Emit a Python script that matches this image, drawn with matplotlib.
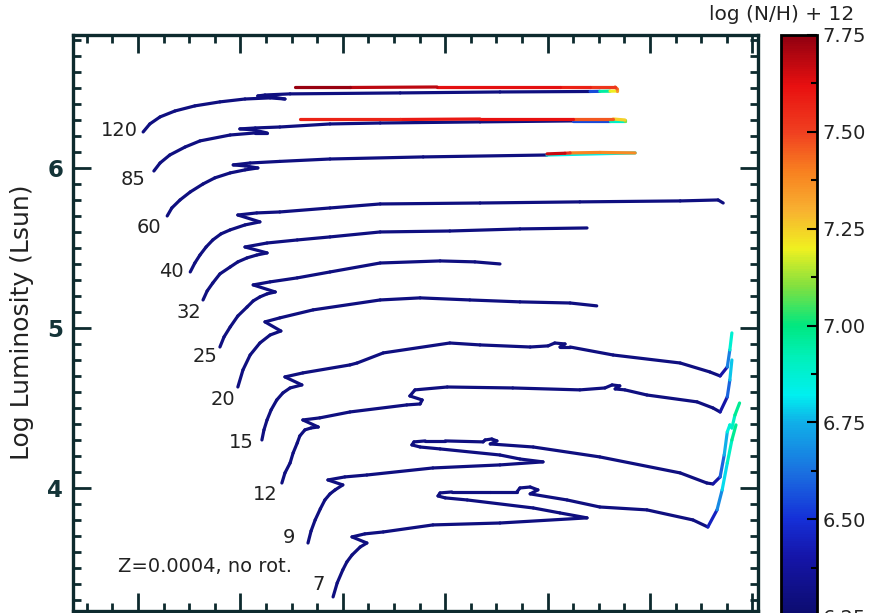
import numpy as np
import matplotlib
matplotlib.use('Agg')
import matplotlib.pyplot as plt
from matplotlib.collections import LineCollection
from matplotlib.colors import LinearSegmentedColormap, Normalize
from matplotlib.cm import ScalarMappable
from matplotlib.ticker import MultipleLocator

plt.rcParams['font.family'] = ['DejaVu Sans']

# ---------------- data: evolutionary tracks (log Teff, log L, log(N/H)+12) ----------------
masses = ['120', '85', '60', '40', '32', '25', '20', '15', '12', '9', '7']

T120 = [4.790, 4.777, 4.757, 4.728, 4.689, 4.640, 4.591, 4.542, 4.513, 4.538, 4.566, 4.552, 4.503,
        4.288, 4.093, 3.917, 3.898, 3.878, 3.864, 3.864, 3.868, 3.917, 3.976, 4.216, 4.386, 4.493]
L120 = [6.225, 6.275, 6.319, 6.356, 6.388, 6.413, 6.431, 6.438, 6.431, 6.444, 6.450, 6.456, 6.463,
        6.469, 6.475, 6.478, 6.479, 6.480, 6.481, 6.494, 6.506, 6.506, 6.506, 6.506, 6.503, 6.503]
N120 = [6.30, 6.30, 6.30, 6.30, 6.30, 6.30, 6.30, 6.30, 6.30, 6.30, 6.30, 6.30, 6.30,
        6.30, 6.30, 6.30, 6.80, 7.10, 7.30, 7.40, 7.50, 7.55, 7.60, 7.65, 7.72, 7.75]

T85 = [4.769, 4.757, 4.738, 4.708, 4.679, 4.620, 4.571, 4.548, 4.575, 4.601, 4.571, 4.523,
       4.425, 4.327, 4.132, 3.950, 3.878, 3.849, 3.849, 3.872, 3.950, 4.132, 4.288, 4.484]
L85 = [5.981, 6.031, 6.081, 6.131, 6.169, 6.206, 6.219, 6.219, 6.238, 6.244, 6.250, 6.256,
       6.275, 6.281, 6.288, 6.294, 6.294, 6.294, 6.300, 6.306, 6.306, 6.306, 6.303, 6.303]
N85 = [6.30, 6.30, 6.30, 6.30, 6.30, 6.30, 6.30, 6.30, 6.30, 6.30, 6.30, 6.30,
       6.30, 6.30, 6.30, 6.30, 6.80, 7.00, 7.20, 7.30, 7.62, 7.62, 7.57, 7.57]

T60 = [4.743, 4.734, 4.718, 4.698, 4.673, 4.650, 4.620, 4.591, 4.566, 4.591, 4.614, 4.581,
       4.523, 4.425, 4.243, 4.001, 3.829, 3.898, 3.956, 3.966, 4.001]
L60 = [5.700, 5.750, 5.800, 5.850, 5.900, 5.938, 5.969, 5.988, 6.000, 6.013, 6.019, 6.031,
       6.041, 6.056, 6.069, 6.081, 6.094, 6.097, 6.094, 6.092, 6.088]
N60 = [6.30, 6.30, 6.30, 6.30, 6.30, 6.30, 6.30, 6.30, 6.30, 6.30, 6.30, 6.30,
       6.30, 6.30, 6.30, 6.30, 7.38, 7.38, 7.40, 7.65, 7.68]

T40 = [4.698, 4.689, 4.679, 4.667, 4.654, 4.638, 4.620, 4.591, 4.562, 4.605, 4.568, 4.523, 4.425,
       4.327, 4.132, 3.937, 3.741, 3.667, 3.657]
L40 = [5.350, 5.406, 5.456, 5.506, 5.550, 5.588, 5.613, 5.644, 5.663, 5.706, 5.719, 5.725, 5.750,
       5.775, 5.781, 5.788, 5.794, 5.800, 5.781]
N40 = [6.30, 6.30, 6.30, 6.30, 6.30, 6.30, 6.30, 6.30, 6.30, 6.30, 6.30, 6.30, 6.30,
       6.30, 6.30, 6.30, 6.30, 6.30, 6.30]

T32 = [4.673, 4.665, 4.654, 4.640, 4.620, 4.605, 4.587, 4.568, 4.548, 4.591, 4.548, 4.489, 4.425,
       4.327, 4.191, 4.054, 3.923]
L32 = [5.175, 5.231, 5.281, 5.338, 5.381, 5.413, 5.438, 5.456, 5.469, 5.506, 5.531, 5.550, 5.569,
       5.600, 5.606, 5.619, 5.625]
N32 = [6.30, 6.30, 6.30, 6.30, 6.30, 6.30, 6.30, 6.30, 6.30, 6.30, 6.30, 6.30, 6.30,
       6.30, 6.30, 6.30, 6.30]

T25 = [4.640, 4.632, 4.620, 4.605, 4.587, 4.575, 4.562, 4.548, 4.532, 4.575, 4.542, 4.489, 4.425,
       4.327, 4.210, 4.142, 4.093]
L25 = [4.881, 4.944, 5.006, 5.075, 5.131, 5.169, 5.194, 5.213, 5.225, 5.269, 5.288, 5.313, 5.350,
       5.406, 5.419, 5.413, 5.400]
N25 = [6.30, 6.30, 6.30, 6.30, 6.30, 6.30, 6.30, 6.30, 6.30, 6.30, 6.30, 6.30, 6.30,
       6.30, 6.30, 6.30, 6.30]

T20 = [4.605, 4.595, 4.581, 4.562, 4.542, 4.521, 4.552, 4.523, 4.458, 4.327, 4.249, 4.152, 4.054, 3.956, 3.904]
L20 = [4.631, 4.738, 4.831, 4.906, 4.956, 4.981, 5.038, 5.063, 5.113, 5.175, 5.188, 5.175, 5.163, 5.156, 5.138]
N20 = [6.30, 6.30, 6.30, 6.30, 6.30, 6.30, 6.30, 6.30, 6.30, 6.30, 6.30, 6.30, 6.30, 6.30, 6.30]

T15 = [4.558, 4.554, 4.548, 4.540, 4.529, 4.517, 4.503, 4.480, 4.513, 4.478, 4.386, 4.372, 4.321,
       4.191, 4.132, 4.034, 3.999, 3.986, 3.966, 3.976, 3.956, 3.872, 3.741, 3.683, 3.663, 3.649,
       3.644, 3.640]
L15 = [4.300, 4.363, 4.425, 4.488, 4.550, 4.594, 4.625, 4.644, 4.694, 4.719, 4.769, 4.781, 4.844,
       4.906, 4.894, 4.881, 4.888, 4.906, 4.900, 4.881, 4.881, 4.831, 4.781, 4.725, 4.700, 4.756,
       4.863, 4.969]
N15 = [6.30, 6.30, 6.30, 6.30, 6.30, 6.30, 6.30, 6.30, 6.30, 6.30, 6.30, 6.30, 6.30,
       6.30, 6.30, 6.30, 6.30, 6.30, 6.30, 6.30, 6.30, 6.30, 6.30, 6.30, 6.30, 6.50,
       6.80, 6.95]

T12 = [4.519, 4.513, 4.503, 4.497, 4.489, 4.484, 4.474, 4.462, 4.448, 4.478, 4.445, 4.386, 4.275,
       4.249, 4.245, 4.269, 4.259, 4.196, 4.068, 3.937, 3.888, 3.874, 3.859, 3.868, 3.849, 3.806,
       3.708, 3.677, 3.663, 3.649, 3.644, 3.640]
L12 = [4.031, 4.094, 4.156, 4.219, 4.281, 4.325, 4.363, 4.375, 4.381, 4.425, 4.438, 4.475, 4.519,
       4.525, 4.550, 4.575, 4.613, 4.631, 4.625, 4.613, 4.625, 4.644, 4.638, 4.619, 4.613, 4.581,
       4.538, 4.500, 4.475, 4.569, 4.675, 4.800]
N12 = [6.30, 6.30, 6.30, 6.30, 6.30, 6.30, 6.30, 6.30, 6.30, 6.30, 6.30, 6.30, 6.30,
       6.30, 6.30, 6.30, 6.30, 6.30, 6.30, 6.30, 6.30, 6.30, 6.30, 6.30, 6.30, 6.30,
       6.30, 6.30, 6.30, 6.50, 6.70, 6.85]

T9 = [4.468, 4.462, 4.454, 4.444, 4.435, 4.425, 4.415, 4.400, 4.429, 4.396, 4.353, 4.224, 4.093,
      4.009, 4.054, 4.093, 4.210, 4.249, 4.265, 4.261, 4.239, 4.200, 4.126, 4.122, 4.109, 4.099,
      4.112, 4.028, 3.898, 3.741, 3.689, 3.677, 3.663, 3.655, 3.649, 3.644, 3.640, 3.634, 3.625]
L9 = [3.656, 3.731, 3.800, 3.869, 3.925, 3.963, 3.988, 4.019, 4.050, 4.069, 4.081, 4.125, 4.144,
      4.163, 4.181, 4.206, 4.244, 4.256, 4.269, 4.288, 4.294, 4.294, 4.288, 4.300, 4.306, 4.294,
      4.275, 4.256, 4.194, 4.094, 4.031, 4.025, 4.069, 4.206, 4.350, 4.394, 4.375, 4.456, 4.531]
N9 = [6.30, 6.30, 6.30, 6.30, 6.30, 6.30, 6.30, 6.30, 6.30, 6.30, 6.30, 6.30, 6.30,
      6.30, 6.30, 6.30, 6.30, 6.30, 6.30, 6.30, 6.30, 6.30, 6.30, 6.30, 6.30, 6.30,
      6.30, 6.30, 6.30, 6.30, 6.30, 6.30, 6.50, 6.70, 6.80, 6.90, 6.85, 6.95, 7.00]

T7 = [4.419, 4.411, 4.400, 4.392, 4.382, 4.366, 4.353, 4.382, 4.357, 4.321, 4.224, 4.093, 3.923,
      3.976, 4.028, 4.157, 4.200, 4.214, 4.210, 4.187, 4.112, 4.060, 4.054, 4.034, 4.019, 4.034,
      3.962, 3.898, 3.806, 3.716, 3.687, 3.669, 3.659, 3.649, 3.640, 3.632]
L7 = [3.319, 3.406, 3.488, 3.538, 3.581, 3.631, 3.656, 3.694, 3.713, 3.725, 3.769, 3.781, 3.813,
      3.844, 3.875, 3.925, 3.938, 3.950, 3.969, 3.975, 3.975, 3.975, 4.000, 4.006, 3.988, 3.963,
      3.925, 3.881, 3.863, 3.800, 3.756, 3.863, 3.988, 4.156, 4.300, 4.394]
N7 = [6.30, 6.30, 6.30, 6.30, 6.30, 6.30, 6.30, 6.30, 6.30, 6.30, 6.30, 6.30, 6.30,
      6.30, 6.30, 6.30, 6.30, 6.30, 6.30, 6.30, 6.30, 6.30, 6.30, 6.30, 6.30, 6.30,
      6.30, 6.30, 6.30, 6.30, 6.30, 6.60, 6.75, 6.85, 6.95, 7.00]

cbar_ticks = [6.25, 6.50, 6.75, 7.00, 7.25, 7.50, 7.75]
ytick_vals = [4, 5, 6]

# ---------------- styling ----------------
cmap_nodes = [6.25, 6.40, 6.50, 6.62, 6.75, 6.82, 6.92, 7.00, 7.10, 7.20, 7.30, 7.40, 7.50, 7.62, 7.75]
cmap_cols = ['#0c0c6e', '#1515a8', '#1530d8', '#1a70e0', '#10b0e8', '#00f0f0', '#00f0b8', '#00e880',
             '#80e040', '#f0f020', '#f8b030', '#f88020', '#f04020', '#e81010', '#900010']
vmin, vmax = 6.25, 7.75
cmap = LinearSegmentedColormap.from_list(
    'nh', [((v - vmin) / (vmax - vmin), c) for v, c in zip(cmap_nodes, cmap_cols)])
norm = Normalize(vmin=vmin, vmax=vmax)

tracks = [(T120, L120, N120), (T85, L85, N85), (T60, L60, N60), (T40, L40, N40),
          (T32, L32, N32), (T25, L25, N25), (T20, L20, N20), (T15, L15, N15),
          (T12, L12, N12), (T9, L9, N9), (T7, L7, N7)]
# label offsets (points) relative to the first point of each track
label_offsets = [(-4, 1), (-6, -6), (-4, -8), (-5, 0), (-1, -9), (-2, -7), (-2, -9),
                 (-6, -2), (-3, -8), (-9, 4), (-6, 9)]

W, H = 885, 613
fig = plt.figure(figsize=(W / 100, H / 100), dpi=100)
ax = fig.add_axes([73 / W, 1 - 611 / H, (758 - 73) / W, (611 - 35) / H])

frame_col = '#0d2a2e'
for T, L, N in tracks:
    pts = np.column_stack([T, L])
    segs = np.stack([pts[:-1], pts[1:]], axis=1)
    nh = np.asarray(N)
    vals = 0.5 * (nh[:-1] + nh[1:])
    lc = LineCollection(segs, cmap=cmap, norm=norm, linewidths=2.3,
                        capstyle='round', joinstyle='round')
    lc.set_array(vals)
    ax.add_collection(lc)

for (T, L, N), m, off in zip(tracks, masses, label_offsets):
    ax.annotate(m, xy=(T[0], L[0]), xytext=off, textcoords='offset points',
                ha='right', va='center', fontsize=14, color='#222222')

fig.text(118 / W, 1 - 567 / H, 'Z=0.0004, no rot.', ha='left', va='center',
         fontsize=14, color='#222222')

ax.set_xlim(4.927, 3.589)
ax.set_ylim(3.231, 6.831)
ax.xaxis.set_major_locator(MultipleLocator(0.2))
ax.xaxis.set_minor_locator(MultipleLocator(0.05))
ax.set_yticks(ytick_vals)
ax.yaxis.set_minor_locator(MultipleLocator(0.1))
ax.tick_params(which='both', direction='in', top=True, bottom=True, left=True, right=True,
               color=frame_col, width=2.0)
ax.tick_params(which='major', length=13)
ax.tick_params(which='minor', length=6)
ax.tick_params(axis='x', labelbottom=False)
ax.tick_params(axis='y', labelsize=16.5, labelcolor='#143438', pad=7)
for lab in ax.get_yticklabels():
    lab.set_fontweight('bold')
for sp in ax.spines.values():
    sp.set_linewidth(2.4)
    sp.set_color(frame_col)

fig.text(22 / W, 1 - 322 / H, 'Log Luminosity (Lsun)', rotation=90, ha='center', va='center',
         fontsize=18, color='#222222')

# colorbar
cax = fig.add_axes([781 / W, 1 - 616 / H, 36 / W, 581 / H])
sm = ScalarMappable(norm=norm, cmap=cmap)
cb = fig.colorbar(sm, cax=cax)
cb.set_ticks(cbar_ticks)
cb.ax.set_yticklabels(['%.2f' % v for v in cbar_ticks])
cb.ax.yaxis.set_minor_locator(MultipleLocator(0.125))
cb.ax.tick_params(which='both', direction='in', color='black', width=1.5, labelsize=14,
                  labelcolor='#222222', pad=4)
cb.ax.tick_params(which='major', length=7)
cb.ax.tick_params(which='minor', length=4)
cb.outline.set_linewidth(2)
cb.outline.set_edgecolor('black')
fig.text(782 / W, 1 - 15 / H, 'log (N/H) + 12', ha='center', va='center', fontsize=14.5,
         color='#222222')

fig.savefig('out.png', dpi=100)
